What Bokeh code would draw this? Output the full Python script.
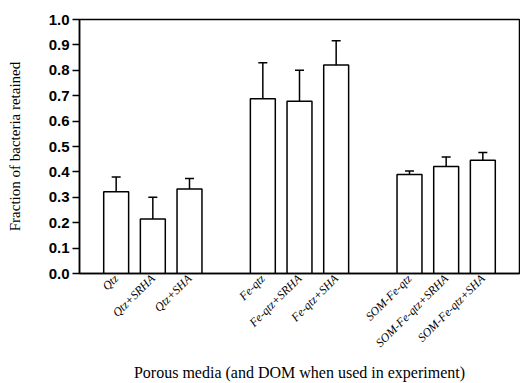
import math
from bokeh.plotting import figure
from bokeh.models import (Range1d, FixedTicker, NumeralTickFormatter, Whisker,
                          ColumnDataSource, TeeHead)
from bokeh.embed import file_html
from bokeh.resources import INLINE

# ---- data ----
categories = ["Qtz", "Qtz+SRHA", "Qtz+SHA",
              "Fe-qtz", "Fe-qtz+SRHA", "Fe-qtz+SHA",
              "SOM-Fe-qtz", "SOM-Fe-qtz+SRHA", "SOM-Fe-qtz+SHA"]
slots = [1, 2, 3, 5, 6, 7, 9, 10, 11]
retained = [0.322, 0.215, 0.333, 0.688, 0.678, 0.821, 0.390, 0.421, 0.446]
err_upper = [0.380, 0.300, 0.374, 0.830, 0.800, 0.916, 0.404, 0.459, 0.476]
err_lower = [0.265, 0.130, 0.290, 0.550, 0.560, 0.727, 0.375, 0.382, 0.415]
y_ticks = [0.0, 0.1, 0.2, 0.3, 0.4, 0.5, 0.6, 0.7, 0.8, 0.9, 1.0]
x_title = "Porous media (and DOM when used in experiment)"

src = ColumnDataSource(dict(x=slots, top=retained, upper=err_upper, lower=err_lower))

p = figure(width=520, height=383, output_backend="svg", toolbar_location=None,
           x_range=Range1d(0, 12), y_range=Range1d(0, 1.0),
           min_border_left=79, min_border_right=1, min_border_top=19,
           min_border_bottom=110)
p.background_fill_color = "white"
p.border_fill_color = "white"
p.outline_line_color = "black"
p.outline_line_width = 1.5
p.xgrid.visible = False
p.ygrid.visible = False

p.vbar(x="x", top="top", bottom=0, width=0.68, source=src,
       fill_color="white", line_color="black", line_width=1.5)

w = Whisker(base="x", upper="upper", lower="lower", source=src,
            line_color="black", line_width=1.5,
            upper_head=TeeHead(size=9, line_width=1.5, line_color="black"),
            lower_head=TeeHead(size=9, line_width=1.5, line_color="black"))
p.add_layout(w)

# y axis
p.yaxis.ticker = FixedTicker(ticks=y_ticks)
p.yaxis.formatter = NumeralTickFormatter(format="0.0")
p.yaxis.minor_tick_line_color = None
p.yaxis.major_tick_out = 7
p.yaxis.major_tick_in = 0
p.yaxis.major_tick_line_width = 1.5
p.yaxis.axis_line_width = 1.5
p.yaxis.major_label_text_font = "Liberation Sans"
p.yaxis.major_label_text_font_style = "bold"
p.yaxis.major_label_text_font_size = "15px"
p.yaxis.major_label_text_color = "black"
p.yaxis.major_label_standoff = 3
p.yaxis.axis_label = "Fraction of bacteria retained"
p.yaxis.axis_label_text_font = "Liberation Serif"
p.yaxis.axis_label_text_font_style = "normal"
p.yaxis.axis_label_text_font_size = "15px"
p.yaxis.axis_label_text_color = "black"
p.yaxis.axis_label_standoff = 23

# x axis
p.xaxis.ticker = FixedTicker(ticks=slots)
p.xaxis.major_label_overrides = {s: c for s, c in zip(slots, categories)}
p.xaxis.major_label_orientation = math.pi / 4
p.xaxis.major_tick_line_color = None
p.xaxis.major_tick_out = 0
p.xaxis.minor_tick_line_color = None
p.xaxis.axis_line_width = 1.5
p.xaxis.major_label_text_font = "Liberation Serif"
p.xaxis.major_label_text_font_style = "italic"
p.xaxis.major_label_text_font_size = "12px"
p.xaxis.major_label_text_color = "black"
p.xaxis.major_label_standoff = 3
p.xaxis.axis_label = x_title
p.xaxis.axis_label_text_font = "Liberation Serif"
p.xaxis.axis_label_text_font_style = "normal"
p.xaxis.axis_label_text_font_size = "16px"
p.xaxis.axis_label_text_color = "black"
p.xaxis.axis_label_standoff = 6

open("out.html", "w").write(file_html(p, INLINE))
